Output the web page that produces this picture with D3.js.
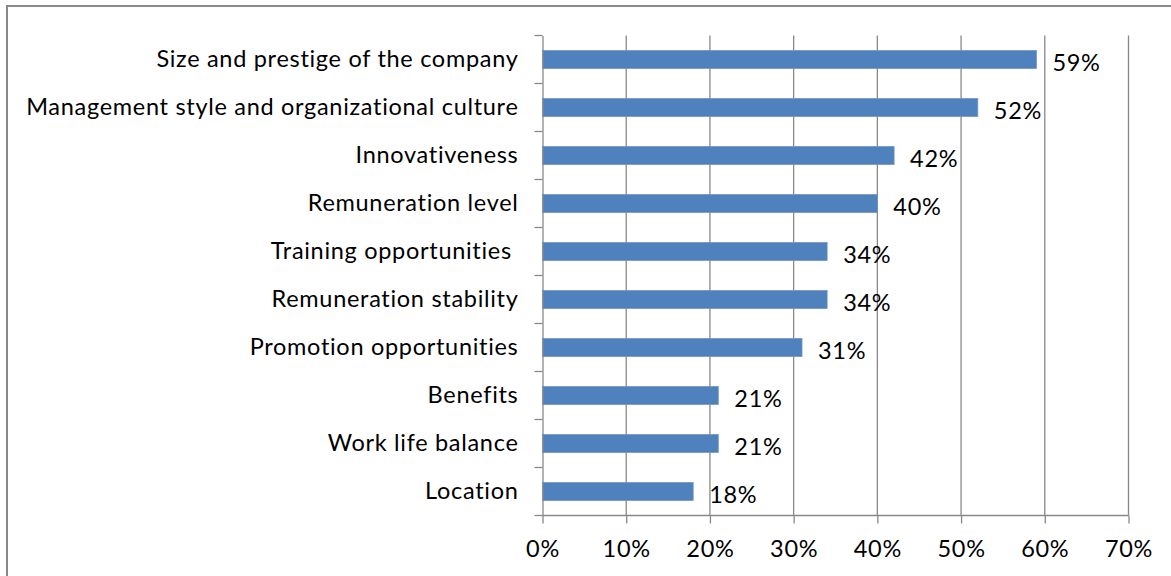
<!DOCTYPE html>
<html>
<head>
<meta charset="utf-8">
<script src="https://cdn.jsdelivr.net/npm/d3@7"></script>
<style>
  html, body { margin: 0; padding: 0; background: #fff; }
  svg { display: block; }
  text { font-family: Lato, "Open Sans", sans-serif; fill: #000; white-space: pre; letter-spacing: 0.7px; }
</style>
</head>
<body>
<svg id="chart" width="1171" height="576"></svg>
<script>
// Factors that shape employer attractiveness (share of respondents)
const categories = [
  "Size and prestige of the company",
  "Management style and organizational culture",
  "Innovativeness",
  "Remuneration level",
  "Training opportunities ",
  "Remuneration stability",
  "Promotion opportunities",
  "Benefits",
  "Work life balance",
  "Location"
];
const values = [59, 52, 42, 40, 34, 34, 31, 21, 21, 18];
const tickValues = [0, 10, 20, 30, 40, 50, 60, 70];

const svg = d3.select("#chart");
const fontSize = 23.5;

// Chart frame (only left and top edges fall inside the view)
svg.append("rect")
  .attr("x", 7).attr("y", 6)
  .attr("width", 1200).attr("height", 600)
  .attr("fill", "none")
  .attr("stroke", "#8a8a8a")
  .attr("stroke-width", 2);

const plot = { left: 542.5, right: 1128.5, top: 35.5, bottom: 515.5 };

const x = d3.scaleLinear().domain([0, 70]).range([plot.left, plot.right]);
const y = d3.scaleBand().domain(categories).range([plot.top, plot.bottom])
  .paddingInner(0.625).paddingOuter(0.3125);
const yBand = d3.scaleBand().domain(categories).range([plot.top, plot.bottom]);

// Vertical gridlines
svg.append("g")
  .selectAll("line")
  .data(tickValues.slice(1))
  .join("line")
  .attr("x1", d => x(d)).attr("x2", d => x(d))
  .attr("y1", plot.top).attr("y2", plot.bottom)
  .attr("stroke", "#888888")
  .attr("stroke-width", 1.3);

// Bars
svg.append("g")
  .selectAll("rect")
  .data(values)
  .join("rect")
  .attr("x", x(0))
  .attr("y", (d, i) => y(categories[i]))
  .attr("width", d => x(d) - x(0))
  .attr("height", y.bandwidth())
  .attr("fill", "#4f81bd")
  .attr("stroke", "#6f97c9")
  .attr("stroke-width", 0.8);

// Value labels
svg.append("g")
  .selectAll("text")
  .data(values)
  .join("text")
  .attr("x", d => x(d) + 16)
  .attr("y", (d, i) => yBand(categories[i]) + yBand.bandwidth() / 2 + 2)
  .attr("dominant-baseline", "central")
  .attr("font-size", fontSize)
  .text(d => d + "%");

// Category axis
const yAxis = svg.append("g")
  .attr("transform", `translate(${plot.left},0)`)
  .call(d3.axisLeft(yBand).tickSize(0).tickPadding(24));
yAxis.select(".domain").attr("stroke", "#888888").attr("stroke-width", 1.3);
yAxis.selectAll(".tick text")
  .attr("font-size", fontSize)
  .attr("font-family", null)
  .attr("dy", "0.3em")
  .attr("fill", "#000");
// Tick marks sit on band boundaries
yAxis.selectAll(".boundary")
  .data(d3.range(categories.length + 1))
  .join("line")
  .attr("class", "boundary")
  .attr("x1", -8).attr("x2", 0)
  .attr("y1", i => plot.top + i * yBand.step())
  .attr("y2", i => plot.top + i * yBand.step())
  .attr("stroke", "#888888")
  .attr("stroke-width", 1.3);

// Value axis
const xAxis = svg.append("g")
  .attr("transform", `translate(0,${plot.bottom})`)
  .call(d3.axisBottom(x).tickValues(tickValues).tickSize(8).tickPadding(17)
    .tickFormat(d => d + "%"));
xAxis.select(".domain").attr("stroke", "#888888").attr("stroke-width", 1.3)
  .attr("d", `M${plot.left},0H${plot.right}`);
xAxis.selectAll(".tick line").attr("stroke", "#888888").attr("stroke-width", 1.3);
xAxis.selectAll(".tick text")
  .attr("font-size", fontSize)
  .attr("font-family", null)
  .attr("fill", "#000");
</script>
</body>
</html>
